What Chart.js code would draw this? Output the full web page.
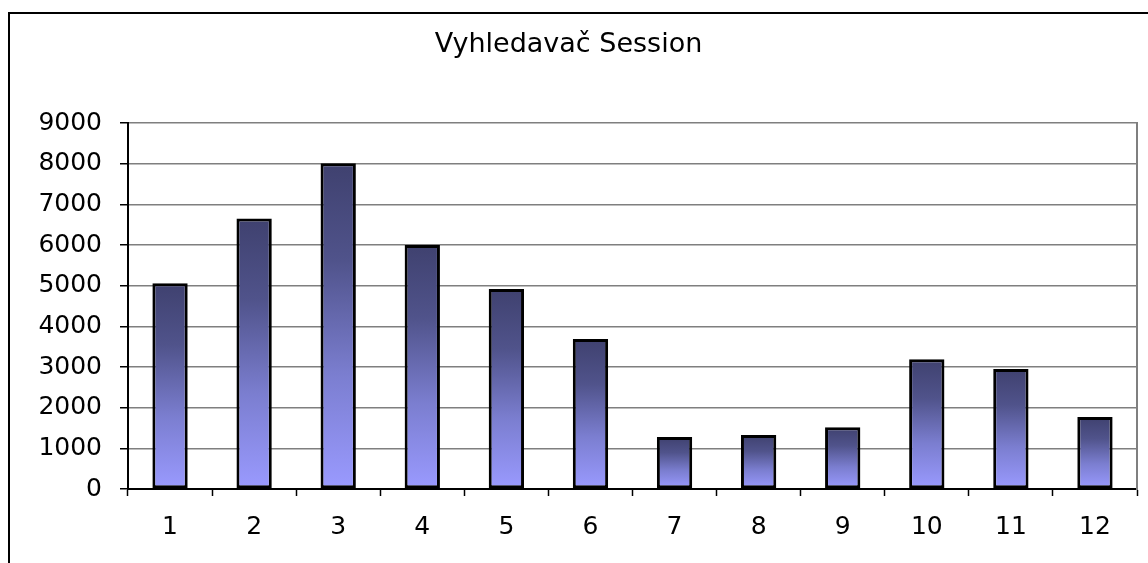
<!DOCTYPE html>
<html>
<head>
<meta charset="utf-8">
<title>Vyhledavač Session</title>
<script src="https://cdn.jsdelivr.net/npm/chart.js@4/dist/chart.umd.min.js"></script>
<style>
  html, body { margin: 0; padding: 0; background: #fff; overflow: hidden; }
  #wrap { position: relative; width: 1148px; height: 563px; }
  /* ramecek grafu (horni a levy okraj, zbytek je mimo obrazek) */
  #frame { position: absolute; left: 8px; top: 12px; width: 1200px; height: 600px;
           border-top: 2px solid #000; border-left: 2px solid #000; }
  #chart { position: absolute; left: 0; top: 0; }
</style>
</head>
<body>
<div id="wrap">
  <div id="frame"></div>
  <canvas id="chart" width="1148" height="563"></canvas>
</div>
<script>
// data z grafu
const chartTitle = 'Vyhledavač Session';
const months = ['1', '2', '3', '4', '5', '6', '7', '8', '9', '10', '11', '12'];
const sessions = [5060, 6650, 8010, 6000, 4920, 3690, 1280, 1330, 1520, 3190, 2950, 1770];
const yMin = 0;
const yMax = 9000;
const yStep = 1000;

const fontFamily = '"DejaVu Sans", "Liberation Sans", Arial, sans-serif';

// prechod barvy pro kazdy sloupec zvlast (tmavy nahore, svetly dole)
function barGradient(context) {
    const chart = context.chart;
    const yScale = chart.scales.y;
    if (!chart.chartArea || !yScale) {
        return '#6b6fb8';
    }
    const top = yScale.getPixelForValue(context.raw);
    const base = yScale.getPixelForValue(0);
    if (!isFinite(top) || !isFinite(base) || base - top < 1) {
        return '#9999ff';
    }
    const g = chart.ctx.createLinearGradient(0, top, 0, base);
    g.addColorStop(0, '#3f416f');
    g.addColorStop(0.3, '#50538b');
    g.addColorStop(0.65, '#7b7ed0');
    g.addColorStop(1, '#9a9aff');
    return g;
}

const ctx = document.getElementById('chart').getContext('2d');
new Chart(ctx, {
    type: 'bar',
    data: {
        labels: months,
        datasets: [{
            label: chartTitle,
            data: sessions,
            backgroundColor: barGradient,
            borderColor: '#000',
            borderWidth: 3,
            borderSkipped: false,
            categoryPercentage: 1,
            barPercentage: 0.42
        }]
    },
    options: {
        responsive: false,
        animation: false,
        layout: {
            padding: { left: 0, right: 11, top: 0, bottom: 0 }
        },
        plugins: {
            legend: { display: false },
            tooltip: { enabled: false },
            title: {
                display: true,
                text: chartTitle,
                color: '#000',
                font: { family: fontFamily, size: 27, weight: 'normal', lineHeight: 1.2 },
                padding: { top: 29, bottom: 61.6 }
            }
        },
        scales: {
            x: {
                offset: true,
                grid: {
                    offset: true,
                    drawOnChartArea: false,
                    drawTicks: true,
                    tickLength: 7,
                    tickColor: '#000',
                    tickWidth: 1.5
                },
                border: { color: '#000', width: 2 },
                ticks: {
                    color: '#000',
                    padding: 16,
                    maxRotation: 0,
                    font: { family: fontFamily, size: 25 }
                },
                afterFit: (scale) => { scale.height = 74; }
            },
            y: {
                min: yMin,
                max: yMax,
                grid: {
                    color: '#7f7f7f',
                    lineWidth: 1.5,
                    tickLength: 8,
                    tickColor: '#000',
                    tickWidth: 1.5
                },
                border: { color: '#000', width: 2 },
                ticks: {
                    stepSize: yStep,
                    color: '#000',
                    padding: 18,
                    font: { family: fontFamily, size: 25 },
                    callback: (value) => String(value)
                },
                afterFit: (scale) => { scale.width = 128; }
            },
            // prava hrana oblasti grafu (seda)
            yRight: {
                position: 'right',
                min: yMin,
                max: yMax,
                grid: { display: false, drawOnChartArea: false, drawTicks: false },
                border: { color: '#7f7f7f', width: 2 },
                ticks: { display: false },
                afterFit: (scale) => { scale.width = 0; }
            }
        }
    }
});
</script>
</body>
</html>
